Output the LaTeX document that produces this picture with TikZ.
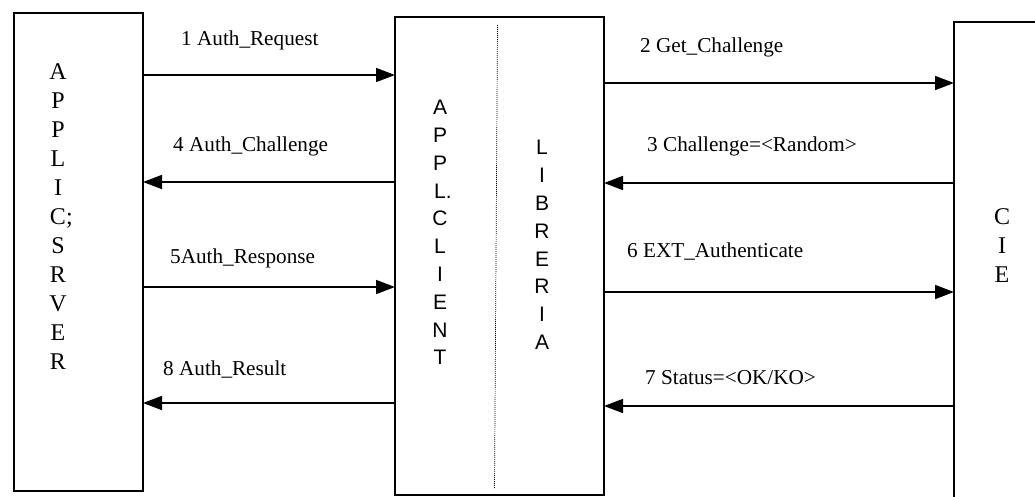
\documentclass[tikz,border=0pt]{standalone}
\usepackage{fontspec}
\setmainfont{Liberation Serif}
\newfontfamily\sansf{Liberation Sans}
\usetikzlibrary{arrows.meta}
\begin{document}
\begin{tikzpicture}[x=1pt,y=-1pt,
  box/.style={draw, line width=1.3pt, inner sep=0pt, outer sep=0pt, anchor=north west},
  msg/.style={line width=1.6pt, -{Triangle[length=19pt,width=14pt]}},
  lbl/.style={anchor=west, inner sep=0pt, font=\fontsize{21.2}{24}\selectfont},
  vtxt/.style={align=center, inner sep=0pt, font=\fontsize{24}{29}\selectfont},
  vsans/.style={align=center, inner sep=0pt, font=\sansf\fontsize{21}{27.8}\selectfont},
  divider/.style={line width=0.7pt, dash pattern=on 1pt off 1pt}]
\clip (0,0) rectangle (1035,496);
\fill[white] (0,0) rectangle (1035,496);
% boxes
\node[box, minimum width=129pt, minimum height=478pt] (srv) at (14,13) {};
\node[box, minimum width=209pt, minimum height=478pt] (cli) at (395,17) {};
\node[box, minimum width=120pt, minimum height=500pt] (cie) at (954,22) {};
% divider
\coordinate (dtop) at (497.5,25);
\coordinate (dbot) at (494.5,488);
\draw[divider] (dtop) -- (dbot);
% vertical texts
\node[vtxt] (srvtxt) at (58,217) {A\\P\\P\\L\\I\\C\rlap{;}\\S\\R\\V\\E\\R};
\node[vsans] (clitxt) at (440,232.5) {A\\P\\P\\L\rlap{.}\\C\\L\\I\\E\\N\\T};
\node[vsans] (libtxt) at (542,245) {L\\I\\B\\R\\E\\R\\I\\A};
\node[vtxt] (cietxt) at (1002,246) {C\\I\\E};
% messages left
\draw[msg] (srv.east |- 0,75) -- (cli.west |- 0,75);
\draw[msg] (cli.west |- 0,182) -- (srv.east |- 0,182);
\draw[msg] (srv.east |- 0,287) -- (cli.west |- 0,287);
\draw[msg] (cli.west |- 0,403) -- (srv.east |- 0,403);
% messages right
\draw[msg] (cli.east |- 0,83) -- (cie.west |- 0,83);
\draw[msg] (cie.west |- 0,183) -- (cli.east |- 0,183);
\draw[msg] (cli.east |- 0,292) -- (cie.west |- 0,292);
\draw[msg] (cie.west |- 0,406) -- (cli.east |- 0,406);
% labels
\node[lbl] (l1) at (181,40) {1 Auth\_Request};
\node[lbl] (l4) at (173,146) {4 Auth\_Challenge};
\node[lbl] (l5) at (170,258) {5Auth\_Response};
\node[lbl] (l8) at (163,370) {8 Auth\_Result};
\node[lbl] (l2) at (640,47) {2 Get\_Challenge};
\node[lbl] (l3) at (647,146) {3 Challenge=<Random>};
\node[lbl] (l6) at (627,252) {6 EXT\_Authenticate};
\node[lbl] (l7) at (645,378) {7 Status=<OK/KO>};
\end{tikzpicture}
\end{document}
